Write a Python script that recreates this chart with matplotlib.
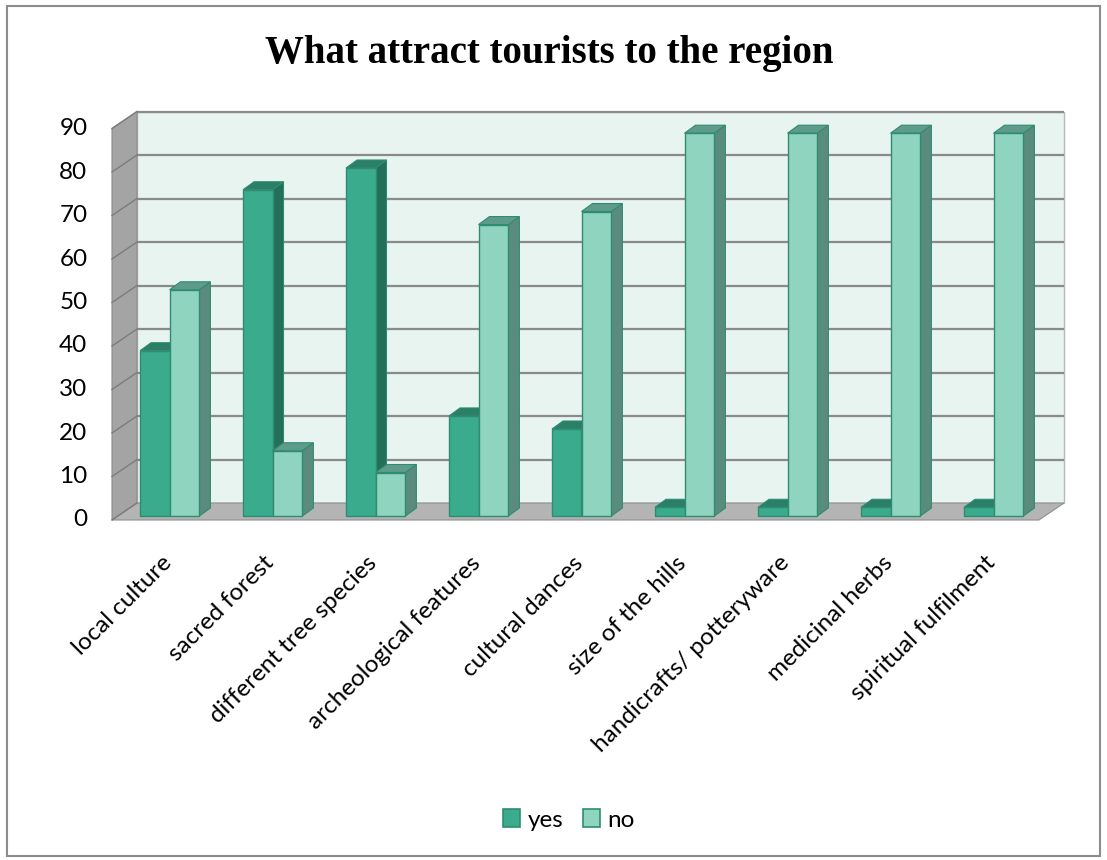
import matplotlib
matplotlib.use("Agg")
import matplotlib.pyplot as plt
from matplotlib.patches import Polygon, Rectangle, Patch
from matplotlib.transforms import ScaledTranslation

# ---- data ----
categories = ["local culture", "sacred forest", "different tree species",
              "archeological features", "cultural dances", "size of the hills",
              "handicrafts/ potteryware", "medicinal herbs", "spiritual fulfilment"]
yes_values = [38, 75, 80, 23, 20, 2, 2, 2, 2]
no_values = [52, 15, 10, 67, 70, 88, 88, 88, 88]
series_names = ["yes", "no"]
y_ticks = list(range(0, 100, 10))
title = "What attract tourists to the region"

# ---- style ----
plt.rcParams["font.family"] = ["Lato", "DejaVu Sans"]
YES_FRONT, YES_TOP, YES_SIDE = "#3aab8d", "#2b7f67", "#236f59"
NO_FRONT, NO_TOP, NO_SIDE = "#8fd4bf", "#5f9b8a", "#5a8b7c"
BAR_EDGE = "#2e8c70"
WALL = "#e8f4f0"
SIDE_WALL = "#a4a4a4"
FLOOR = "#b4b4b4"
GRID = "#8a8a8a"
LABEL_SIZE = 17.5

W, H, DPI = 1107, 860, 100
fig = plt.figure(figsize=(W / DPI, H / DPI), dpi=DPI)
fig.patch.set_facecolor("white")

# axes = plane of the bar fronts
px_x, px_y = 103.0, 4.35           # pixels per category / per value unit
left_px, base_px = 118, 516
n = len(categories)
ax = fig.add_axes([left_px / W, 1 - base_px / H,
                   n * px_x / W, 90 * px_y / H])
ax.set_xlim(-0.5, n - 0.5)
ax.set_ylim(0, 90)
ax.set_facecolor("none")
for s in ax.spines.values():
    s.set_visible(False)

# 3-D depth offsets (data units)
FRONT = (-6 / px_x, -4 / px_y)
BACK = (19 / px_x, 13 / px_y)
BAR_D = (11 / px_x, 8 / px_y)
xa, xb = -0.5, n - 0.5
ymax = y_ticks[-1]


def poly(pts, fc, ec="none", lw=0, z=1):
    p = Polygon(pts, closed=True, facecolor=fc, edgecolor=ec, linewidth=lw,
                zorder=z, clip_on=False)
    ax.add_patch(p)


# back wall
poly([(xa + BACK[0], BACK[1]), (xb + BACK[0], BACK[1]),
      (xb + BACK[0], ymax + BACK[1]), (xa + BACK[0], ymax + BACK[1])],
     WALL, "#b8b8b8", 1.0, z=0.5)
# left side wall
poly([(xa + FRONT[0], FRONT[1]), (xa + BACK[0], BACK[1]),
      (xa + BACK[0], ymax + BACK[1]), (xa + FRONT[0], ymax + FRONT[1])],
     SIDE_WALL, "#8c8c8c", 0.8, z=0.6)
# floor
poly([(xa + FRONT[0], FRONT[1]), (xb + FRONT[0], FRONT[1]),
      (xb + BACK[0], BACK[1]), (xa + BACK[0], BACK[1])],
     FLOOR, "#8f8f8f", 0.8, z=0.7)

# gridlines on the back wall and the side wall
for v in y_ticks[1:]:
    ax.plot([xa + BACK[0], xb + BACK[0]], [v + BACK[1], v + BACK[1]],
            color=GRID, lw=1.6, zorder=0.8, clip_on=False,
            solid_capstyle="butt")
for v in y_ticks:
    ax.plot([xa + FRONT[0], xa + BACK[0]], [v + FRONT[1], v + BACK[1]],
            color="#7c7c7c", lw=1.0, zorder=0.9, clip_on=False)

# bars
w_yes, w_no = 0.286, 0.29
for i in range(n):
    specs = [(i - w_yes, w_yes, yes_values[i], YES_FRONT, YES_TOP, YES_SIDE),
             (i, w_no, no_values[i], NO_FRONT, NO_TOP, NO_SIDE)]
    for k, (x0, w, v, cf, ct, cs) in enumerate(specs):
        z = 2 + i * 0.1 + k * 0.05
        x1 = x0 + w
        # side face
        poly([(x1, 0), (x1 + BAR_D[0], BAR_D[1]), (x1 + BAR_D[0], v + BAR_D[1]),
              (x1, v)], cs, BAR_EDGE, 0.8, z=z)
        # top face
        poly([(x0, v), (x1, v), (x1 + BAR_D[0], v + BAR_D[1]),
              (x0 + BAR_D[0], v + BAR_D[1])], ct, BAR_EDGE, 0.8, z=z)
        # front face
        ax.bar(x0, v, width=w, align="edge", color=cf, edgecolor=BAR_EDGE,
               linewidth=1.0, zorder=z + 0.01, clip_on=False)

# value axis labels
ax.set_yticks(y_ticks)
ax.set_yticklabels([str(t) for t in y_ticks], fontsize=LABEL_SIZE, color="black")
ax.tick_params(axis="y", length=0, pad=22)
for lab in ax.get_yticklabels():
    lab.set_transform(lab.get_transform() +
                      ScaledTranslation(0, -2 / DPI, fig.dpi_scale_trans))

# category labels
ax.set_xticks(range(n))
ax.set_xticklabels(categories, rotation=45, ha="right", va="top",
                   rotation_mode="anchor", fontsize=LABEL_SIZE)
ax.tick_params(axis="x", length=0, pad=26)
for lab in ax.get_xticklabels():
    lab.set_transform(lab.get_transform() +
                      ScaledTranslation(-9 / DPI, 0, fig.dpi_scale_trans))

# title
fig.text(549 / W, 1 - 53 / H, title, ha="center", va="center",
         fontfamily="Liberation Serif", fontweight="bold", fontsize=28)

# legend
handles = [Patch(facecolor=YES_FRONT, edgecolor=BAR_EDGE, linewidth=1.2),
           Patch(facecolor=NO_FRONT, edgecolor=BAR_EDGE, linewidth=1.2)]
fig.legend(handles, series_names, loc="center",
           bbox_to_anchor=(569 / W, 1 - 820 / H), ncol=2, frameon=False,
           fontsize=LABEL_SIZE, handlelength=0.7, handleheight=0.7,
           handletextpad=0.3, columnspacing=0.8)

# chart border
fig.patches.append(Rectangle((7 / W, 4 / H), 1093 / W, 850 / H,
                             transform=fig.transFigure, fill=False,
                             edgecolor="#8c8c8c", linewidth=1.5))

fig.savefig("out.png", dpi=DPI)
